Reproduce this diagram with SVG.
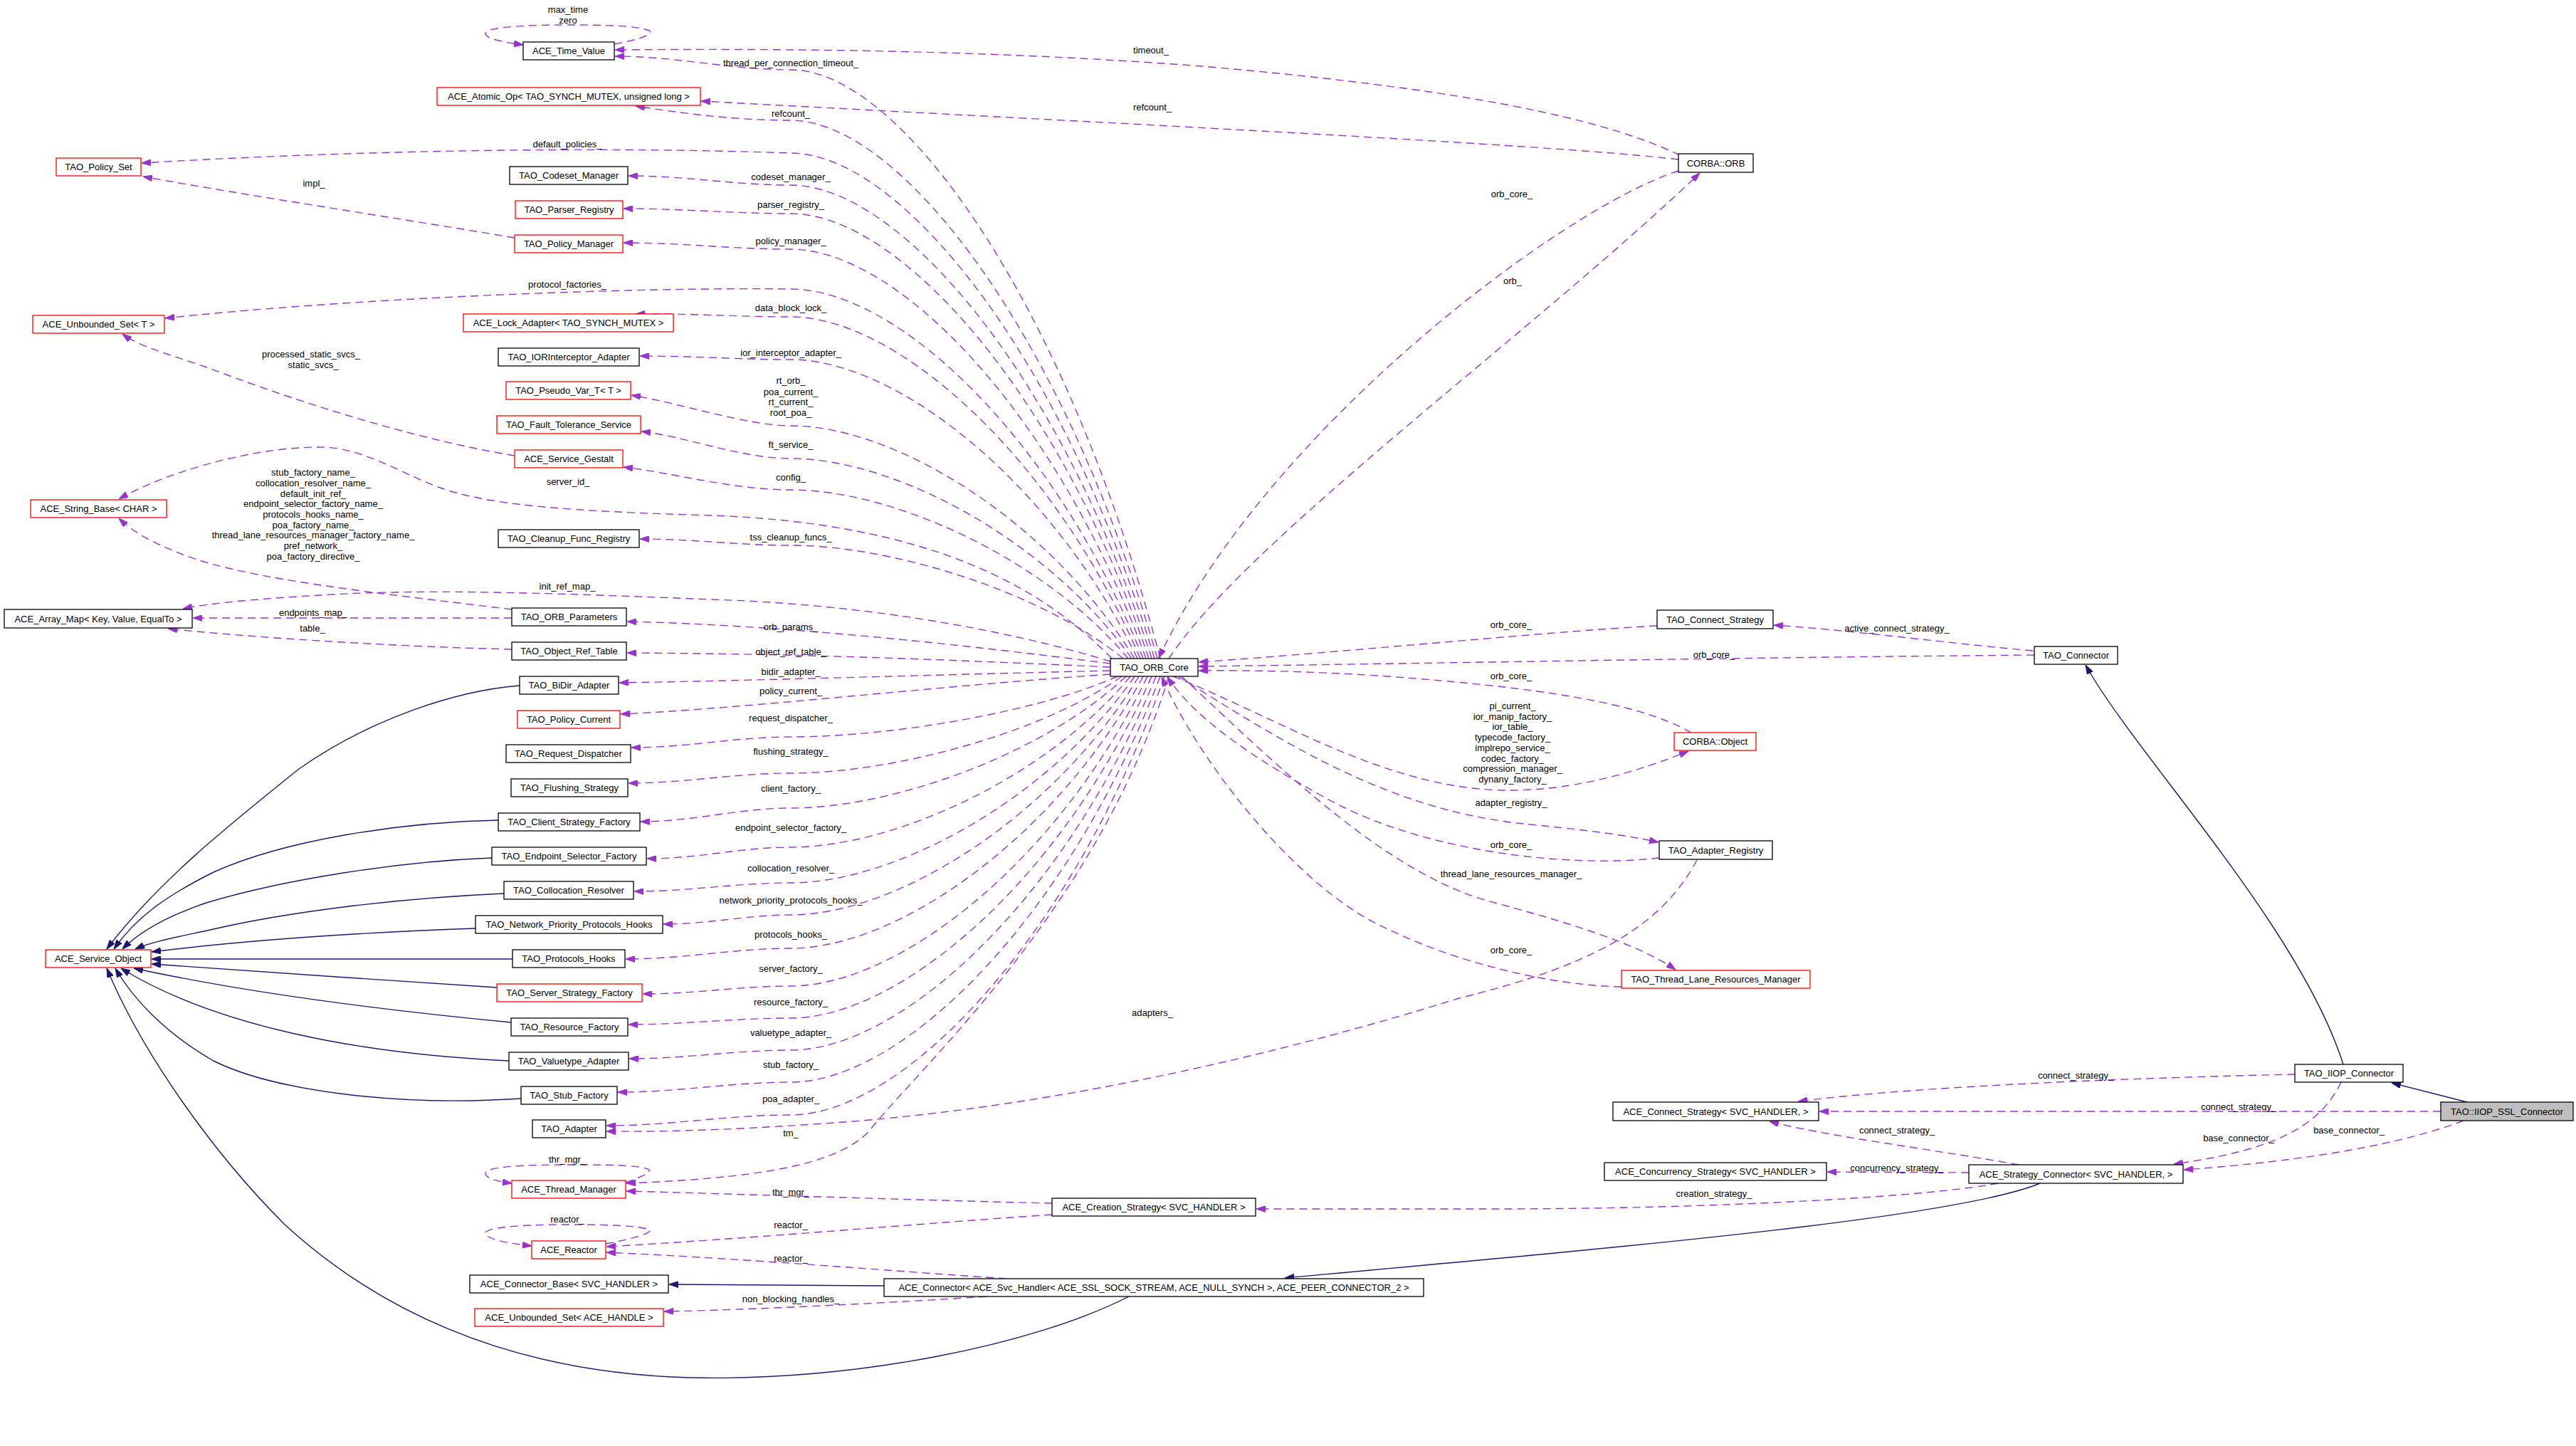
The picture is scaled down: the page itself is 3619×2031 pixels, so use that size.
<svg xmlns="http://www.w3.org/2000/svg" width="3619" height="2031" viewBox="0 0 3619 2031">
<style>
text{font-family:"Liberation Sans",Arial,sans-serif;font-size:13px;fill:#000;text-anchor:middle}
.n rect{fill:#fff;stroke:#000;stroke-width:1.3}
.n.r rect{stroke:#f00}
.n.g rect{fill:#bfbfbf}
.u{fill:none;stroke:#9a32cd;stroke-width:1.4;stroke-dasharray:11,7;marker-end:url(#ap)}
.i{fill:none;stroke:#191970;stroke-width:1.4;marker-end:url(#ab)}
</style>
<defs>
<marker id="ap" viewBox="0 0 13 9" refX="13" refY="4.5" markerWidth="13" markerHeight="9" markerUnits="userSpaceOnUse" orient="auto"><path d="M0,0 L13,4.5 L0,9 z" fill="#9a32cd" stroke="#9a32cd"/></marker>
<marker id="ab" viewBox="0 0 13 9" refX="13" refY="4.5" markerWidth="13" markerHeight="9" markerUnits="userSpaceOnUse" orient="auto"><path d="M0,0 L13,4.5 L0,9 z" fill="#191970" stroke="#191970"/></marker>
</defs>
<rect x="0" y="0" width="3619" height="2031" fill="#fff"/>
<g id="connectors">
<path class="u" d="M863,62 C900,55 920,48 912,43 C895,36 850,35 798,35 C720,35 682,40 682,47 C682,54 705,59 735,63"/>
<path class="u" d="M879,1661 C905,1652 918,1645 910,1642 C895,1636 850,1636 797,1636 C720,1636 682,1640 682,1648 C682,1654 695,1659 719,1662"/>
<path class="u" d="M851,1747 C900,1738 918,1730 912,1727 C895,1721 850,1720 798,1720 C720,1720 682,1725 682,1732 C682,1740 710,1746 747,1750"/>
<path class="u" d="M1630,925 C1500,429 1267,98 1111,98 C1025,98 951,79 864,79"/>
<path class="u" d="M1626,925 C1497,471 1265,169 1111,169 C1035,169 965,160 893,149"/>
<path class="u" d="M1622,925 C1494,499 1264,215 1111,215 C800,204 450,214 199,229"/>
<path class="u" d="M1618,925 C1491,526 1263,260 1111,260 C1032,260 965,247 883,247"/>
<path class="u" d="M1614,925 C1488,550 1262,300 1111,300 C1030,300 960,293 876,293"/>
<path class="u" d="M1610,925 C1485,580 1261,350 1111,350 C1030,350 960,341 876,341"/>
<path class="u" d="M1606,925 C1482,614 1260,406 1111,406 C900,403 500,418 232,447"/>
<path class="u" d="M1602,925 C1479,638 1258,445 1111,445 C1040,445 960,440 893,441"/>
<path class="u" d="M1598,925 C1476,673 1257,505 1111,505 C1038,505 975,500 899,500"/>
<path class="u" d="M1594,925 C1473,729 1256,598 1111,598 C1050,598 950,565 887,555"/>
<path class="u" d="M1590,925 C1470,756 1255,644 1111,644 C1040,644 960,612 901,606"/>
<path class="u" d="M1585,925 C1466,783 1253,688 1111,688 C1030,688 950,665 876,656"/>
<path class="u" d="M1578,925 C1461,830 1251,766 1111,766 C1038,766 975,757 899,757"/>
<path class="u" d="M1562,925 C1460,820 1300,735 1000,724 C800,718 680,710 610,682 C555,660 505,628 450,628 C350,628 230,665 167,701"/>
<path class="u" d="M1560,929 C1450,895 1250,850 1000,842 C800,834 600,826 450,836 C380,840 300,846 257,855"/>
<path class="u" d="M1560,932 C1350,905 1100,878 881,873"/>
<path class="u" d="M1560,937 C1300,925 1100,918 881,917"/>
<path class="u" d="M1560,942 C1300,948 1100,955 870,959"/>
<path class="u" d="M1560,947 C1300,965 1050,995 872,1003"/>
<path class="u" d="M1570,950 C1455,1001 1249,1035 1111,1035 C1034,1035 967,1050 887,1050"/>
<path class="u" d="M1576,950 C1460,1032 1250,1086 1111,1086 C1031,1086 963,1100 883,1100"/>
<path class="u" d="M1582,950 C1464,1061 1252,1135 1111,1135 C1038,1135 975,1154 900,1154"/>
<path class="u" d="M1588,950 C1469,1094 1254,1190 1111,1190 C1041,1190 982,1206 909,1206"/>
<path class="u" d="M1594,950 C1473,1124 1256,1240 1111,1240 C1035,1240 969,1252 891,1252"/>
<path class="u" d="M1600,950 C1478,1151 1258,1285 1111,1285 C1049,1285 996,1298 932,1298"/>
<path class="u" d="M1606,950 C1482,1179 1260,1332 1111,1332 C1031,1332 962,1347 879,1347"/>
<path class="u" d="M1612,950 C1487,1211 1261,1385 1111,1385 C1039,1385 978,1396 903,1396"/>
<path class="u" d="M1618,950 C1491,1238 1263,1430 1111,1430 C1031,1430 963,1439 883,1439"/>
<path class="u" d="M1624,950 C1496,1265 1265,1475 1111,1475 C1032,1475 965,1487 884,1487"/>
<path class="u" d="M1630,950 C1500,1292 1267,1520 1111,1520 C1027,1520 955,1534 868,1534"/>
<path class="u" d="M1636,950 C1505,1320 1268,1566 1111,1566 C1021,1566 945,1581 852,1581"/>
<path class="u" d="M1642,950 C1540,1280 1290,1500 1220,1590 C1170,1640 1050,1655 880,1662"/>
<path class="u" d="M2360,218 C2250,165 2050,125 1700,94 C1400,70 1100,68 864,70"/>
<path class="u" d="M2358,224 C2200,205 1700,180 985,142"/>
<path class="u" d="M2358,240 C2200,290 1780,600 1628,924"/>
<path class="u" d="M1642,925 C1750,760 2150,470 2388,243"/>
<path class="u" d="M2328,879 C2200,885 1900,915 1684,930"/>
<path class="u" d="M2858,920 C2400,924 2000,932 1684,936"/>
<path class="u" d="M2376,1029 C2300,985 2150,965 1950,950 C1850,943 1750,941 1684,942"/>
<path class="u" d="M1648,950 C1800,1010 1950,1110 2120,1110 C2220,1110 2310,1080 2372,1055"/>
<path class="u" d="M1655,950 C1800,1040 1950,1140 2150,1158 C2220,1165 2280,1172 2330,1183"/>
<path class="u" d="M2331,1205 C2200,1220 2000,1195 1870,1125 C1760,1065 1680,1010 1640,951"/>
<path class="u" d="M1660,950 C1800,1080 1950,1230 2100,1268 C2200,1295 2300,1325 2354,1362"/>
<path class="u" d="M2278,1386 C2200,1385 2050,1360 1920,1290 C1800,1220 1680,1060 1632,951"/>
<path class="u" d="M2384,1208 C2330,1310 2220,1360 2050,1402 C1800,1480 1500,1550 1200,1575 C1050,1586 950,1590 852,1589"/>
<path class="u" d="M2856,914 C2750,905 2600,885 2492,878"/>
<path class="u" d="M3224,1509 C3000,1514 2700,1525 2526,1547"/>
<path class="u" d="M3429,1561 L2556,1561"/>
<path class="u" d="M2836,1636 C2720,1615 2560,1595 2486,1575"/>
<path class="u" d="M2766,1647 L2567,1646"/>
<path class="u" d="M2807,1662 C2700,1682 2400,1698 2100,1698 L1765,1698"/>
<path class="u" d="M3289,1520 C3260,1580 3200,1615 3054,1635"/>
<path class="u" d="M3461,1574 C3380,1605 3250,1630 3068,1643"/>
<path class="u" d="M723,640 C600,620 450,575 320,527 C250,500 200,490 172,469"/>
<path class="u" d="M723,334 C550,305 350,275 201,248"/>
<path class="u" d="M719,856 C550,835 350,815 260,780 C220,765 190,750 167,728"/>
<path class="u" d="M719,868 L271,868"/>
<path class="u" d="M719,912 C550,908 350,895 236,883"/>
<path class="u" d="M1478,1690 C1300,1686 1000,1676 880,1673"/>
<path class="u" d="M1478,1706 C1300,1718 1050,1740 852,1751"/>
<path class="u" d="M1414,1796 C1250,1785 1050,1768 852,1759"/>
<path class="u" d="M1386,1821 C1250,1830 1050,1840 933,1842"/>
<path class="i" d="M3292,1495 C3230,1300 3000,1060 2930,934"/>
<path class="i" d="M3466,1548 L3360,1521"/>
<path class="i" d="M2866,1662 C2750,1710 2300,1750 1805,1795"/>
<path class="i" d="M1242,1806 L940,1804"/>
<path class="i" d="M1586,1821 C1450,1890 1200,1940 970,1935 C700,1928 520,1830 400,1720 C300,1620 200,1480 150,1360"/>
<path class="i" d="M730,963 C640,970 520,1010 420,1080 C320,1160 220,1240 150,1333"/>
<path class="i" d="M700,1152 C560,1155 400,1180 300,1225 C230,1260 190,1290 160,1333"/>
<path class="i" d="M691,1205 C560,1210 400,1235 290,1268 C240,1285 200,1305 172,1333"/>
<path class="i" d="M708,1255 C550,1262 400,1282 300,1305 C250,1316 215,1322 190,1333"/>
<path class="i" d="M668,1304 C500,1310 350,1320 213,1337"/>
<path class="i" d="M720,1347 L213,1347"/>
<path class="i" d="M698,1387 C550,1378 350,1363 213,1354"/>
<path class="i" d="M718,1436 C550,1420 350,1395 188,1360"/>
<path class="i" d="M715,1490 C500,1480 300,1440 170,1360"/>
<path class="i" d="M732,1543 C550,1555 380,1530 300,1490 C230,1450 185,1400 162,1360"/>
<g id="edge-labels">
<text x="798" y="18">max_time</text>
<text x="798" y="33">zero</text>
<text x="1617" y="75">timeout_</text>
<text x="1111" y="93">thread_per_connection_timeout_</text>
<text x="1619" y="155">refcount_</text>
<text x="1111" y="164">refcount_</text>
<text x="797" y="207">default_policies_</text>
<text x="1111" y="253">codeset_manager_</text>
<text x="441" y="262">impl_</text>
<text x="2124" y="277">orb_core_</text>
<text x="1111" y="292">parser_registry_</text>
<text x="1111" y="343">policy_manager_</text>
<text x="2125" y="399">orb_</text>
<text x="797" y="404">protocol_factories_</text>
<text x="1111" y="437">data_block_lock_</text>
<text x="1111" y="500">ior_interceptor_adapter_</text>
<text x="437" y="502">processed_static_svcs_</text>
<text x="440" y="517">static_svcs_</text>
<text x="1111" y="539">rt_orb_</text>
<text x="1111" y="555">poa_current_</text>
<text x="1111" y="569">rt_current_</text>
<text x="1111" y="584">root_poa_</text>
<text x="1111" y="629">ft_service_</text>
<text x="440" y="668">stub_factory_name_</text>
<text x="440" y="683">collocation_resolver_name_</text>
<text x="440" y="698">default_init_ref_</text>
<text x="440" y="712">endpoint_selector_factory_name_</text>
<text x="440" y="727">protocols_hooks_name_</text>
<text x="440" y="742">poa_factory_name_</text>
<text x="440" y="756">thread_lane_resources_manager_factory_name_</text>
<text x="440" y="771">pref_network_</text>
<text x="440" y="786">poa_factory_directive_</text>
<text x="1111" y="675">config_</text>
<text x="798" y="681">server_id_</text>
<text x="1111" y="759">tss_cleanup_funcs_</text>
<text x="797" y="828">init_ref_map_</text>
<text x="440" y="865">endpoints_map_</text>
<text x="2123" y="882">orb_core_</text>
<text x="1111" y="885">orb_params_</text>
<text x="2665" y="887">active_connect_strategy_</text>
<text x="439" y="887">table_</text>
<text x="1111" y="920">object_ref_table_</text>
<text x="2408" y="924">orb_core_</text>
<text x="1111" y="948">bidir_adapter_</text>
<text x="2123" y="954">orb_core_</text>
<text x="1111" y="975">policy_current_</text>
<text x="2125" y="996">pi_current_</text>
<text x="2125" y="1011">ior_manip_factory_</text>
<text x="2125" y="1025">ior_table_</text>
<text x="2125" y="1040">typecode_factory_</text>
<text x="2125" y="1055">implrepo_service_</text>
<text x="2125" y="1070">codec_factory_</text>
<text x="2125" y="1084">compression_manager_</text>
<text x="2125" y="1099">dynany_factory_</text>
<text x="1111" y="1013">request_dispatcher_</text>
<text x="1111" y="1060">flushing_strategy_</text>
<text x="1111" y="1112">client_factory_</text>
<text x="2123" y="1132">adapter_registry_</text>
<text x="1111" y="1167">endpoint_selector_factory_</text>
<text x="2123" y="1191">orb_core_</text>
<text x="1111" y="1224">collocation_resolver_</text>
<text x="2123" y="1232">thread_lane_resources_manager_</text>
<text x="1111" y="1269">network_priority_protocols_hooks_</text>
<text x="1111" y="1317">protocols_hooks_</text>
<text x="2123" y="1339">orb_core_</text>
<text x="1111" y="1365">server_factory_</text>
<text x="1111" y="1412">resource_factory_</text>
<text x="1619" y="1427">adapters_</text>
<text x="1111" y="1455">valuetype_adapter_</text>
<text x="1111" y="1500">stub_factory_</text>
<text x="2916" y="1515">connect_strategy_</text>
<text x="1111" y="1548">poa_adapter_</text>
<text x="3145" y="1559">connect_strategy_</text>
<text x="2665" y="1592">connect_strategy_</text>
<text x="3300" y="1592">base_connector_</text>
<text x="1111" y="1596">tm_</text>
<text x="3145" y="1603">base_connector_</text>
<text x="797" y="1633">thr_mgr_</text>
<text x="2665" y="1645">concurrency_strategy_</text>
<text x="1111" y="1679">thr_mgr_</text>
<text x="2408" y="1681">creation_strategy_</text>
<text x="797" y="1717">reactor_</text>
<text x="1111" y="1725">reactor_</text>
<text x="1111" y="1772">reactor_</text>
<text x="1111" y="1829">non_blocking_handles_</text>
</g>
</g>
<g id="n1" class="n"><rect x="735" y="59" width="128" height="25"/><text x="799" y="76">ACE_Time_Value</text></g>
<g id="n2" class="n r"><rect x="614" y="123" width="370" height="25"/><text x="799" y="140">ACE_Atomic_Op&lt; TAO_SYNCH_MUTEX, unsigned long &gt;</text></g>
<g id="n3" class="n r"><rect x="79" y="222" width="119" height="25"/><text x="138.5" y="239">TAO_Policy_Set</text></g>
<g id="n4" class="n"><rect x="716" y="234" width="166" height="25"/><text x="799" y="251">TAO_Codeset_Manager</text></g>
<g id="n5" class="n r"><rect x="724" y="282" width="151" height="25"/><text x="799.5" y="299">TAO_Parser_Registry</text></g>
<g id="n6" class="n r"><rect x="723" y="330" width="152" height="25"/><text x="799" y="347">TAO_Policy_Manager</text></g>
<g id="n7" class="n r"><rect x="46" y="443" width="185" height="25"/><text x="138.5" y="460">ACE_Unbounded_Set&lt; T &gt;</text></g>
<g id="n8" class="n r"><rect x="651" y="441" width="295" height="25"/><text x="798.5" y="458">ACE_Lock_Adapter&lt; TAO_SYNCH_MUTEX &gt;</text></g>
<g id="n9" class="n"><rect x="700" y="489" width="198" height="25"/><text x="799" y="506">TAO_IORInterceptor_Adapter</text></g>
<g id="n10" class="n r"><rect x="711" y="536" width="175" height="25"/><text x="798.5" y="553">TAO_Pseudo_Var_T&lt; T &gt;</text></g>
<g id="n11" class="n r"><rect x="698" y="584" width="202" height="25"/><text x="799" y="601">TAO_Fault_Tolerance_Service</text></g>
<g id="n12" class="n r"><rect x="723" y="632" width="152" height="25"/><text x="799" y="649">ACE_Service_Gestalt</text></g>
<g id="n13" class="n r"><rect x="43" y="702" width="191" height="25"/><text x="138.5" y="719">ACE_String_Base&lt; CHAR &gt;</text></g>
<g id="n14" class="n"><rect x="700" y="744" width="198" height="25"/><text x="799" y="761">TAO_Cleanup_Func_Registry</text></g>
<g id="n15" class="n"><rect x="6" y="856" width="264" height="26"/><text x="138" y="873.5">ACE_Array_Map&lt; Key, Value, EqualTo &gt;</text></g>
<g id="n16" class="n"><rect x="719" y="854" width="161" height="25"/><text x="799.5" y="871">TAO_ORB_Parameters</text></g>
<g id="n17" class="n"><rect x="719" y="902" width="161" height="25"/><text x="799.5" y="919">TAO_Object_Ref_Table</text></g>
<g id="n18" class="n"><rect x="730" y="950" width="139" height="25"/><text x="799.5" y="967">TAO_BiDir_Adapter</text></g>
<g id="n19" class="n r"><rect x="727" y="998" width="144" height="25"/><text x="799" y="1015">TAO_Policy_Current</text></g>
<g id="n20" class="n"><rect x="711" y="1046" width="175" height="25"/><text x="798.5" y="1063">TAO_Request_Dispatcher</text></g>
<g id="n21" class="n"><rect x="718" y="1094" width="164" height="25"/><text x="800" y="1111">TAO_Flushing_Strategy</text></g>
<g id="n22" class="n"><rect x="700" y="1142" width="199" height="25"/><text x="799.5" y="1159">TAO_Client_Strategy_Factory</text></g>
<g id="n23" class="n"><rect x="691" y="1190" width="217" height="25"/><text x="799.5" y="1207">TAO_Endpoint_Selector_Factory</text></g>
<g id="n24" class="n"><rect x="708" y="1238" width="182" height="25"/><text x="799" y="1255">TAO_Collocation_Resolver</text></g>
<g id="n25" class="n"><rect x="668" y="1286" width="263" height="25"/><text x="799.5" y="1303">TAO_Network_Priority_Protocols_Hooks</text></g>
<g id="n26" class="n r"><rect x="64" y="1334" width="148" height="25"/><text x="138" y="1351">ACE_Service_Object</text></g>
<g id="n27" class="n"><rect x="720" y="1334" width="158" height="25"/><text x="799" y="1351">TAO_Protocols_Hooks</text></g>
<g id="n28" class="n r"><rect x="698" y="1382" width="204" height="25"/><text x="800" y="1399">TAO_Server_Strategy_Factory</text></g>
<g id="n29" class="n"><rect x="718" y="1430" width="164" height="25"/><text x="800" y="1447">TAO_Resource_Factory</text></g>
<g id="n30" class="n"><rect x="715" y="1478" width="168" height="25"/><text x="799" y="1495">TAO_Valuetype_Adapter</text></g>
<g id="n31" class="n"><rect x="732" y="1526" width="135" height="25"/><text x="799.5" y="1543">TAO_Stub_Factory</text></g>
<g id="n32" class="n"><rect x="748" y="1573" width="103" height="25"/><text x="799.5" y="1590">TAO_Adapter</text></g>
<g id="n33" class="n r"><rect x="719" y="1658" width="160" height="25"/><text x="799" y="1675">ACE_Thread_Manager</text></g>
<g id="n34" class="n r"><rect x="747" y="1743" width="104" height="25"/><text x="799" y="1760">ACE_Reactor</text></g>
<g id="n35" class="n"><rect x="660" y="1791" width="279" height="25"/><text x="799.5" y="1808">ACE_Connector_Base&lt; SVC_HANDLER &gt;</text></g>
<g id="n36" class="n r"><rect x="667" y="1838" width="265" height="25"/><text x="799.5" y="1855">ACE_Unbounded_Set&lt; ACE_HANDLE &gt;</text></g>
<g id="n37" class="n"><rect x="1560" y="925" width="123" height="25"/><text x="1621.5" y="942">TAO_ORB_Core</text></g>
<g id="n38" class="n"><rect x="1478" y="1683" width="286" height="25"/><text x="1621" y="1700">ACE_Creation_Strategy&lt; SVC_HANDLER &gt;</text></g>
<g id="n39" class="n"><rect x="1242" y="1796" width="758" height="25"/><text x="1621" y="1813">ACE_Connector&lt; ACE_Svc_Handler&lt; ACE_SSL_SOCK_STREAM, ACE_NULL_SYNCH &gt;, ACE_PEER_CONNECTOR_2 &gt;</text></g>
<g id="n40" class="n"><rect x="2358" y="216" width="105" height="26"/><text x="2410.5" y="233.5">CORBA::ORB</text></g>
<g id="n41" class="n"><rect x="2328" y="857" width="163" height="26"/><text x="2409.5" y="874.5">TAO_Connect_Strategy</text></g>
<g id="n42" class="n"><rect x="2858" y="908" width="117" height="25"/><text x="2916.5" y="925">TAO_Connector</text></g>
<g id="n43" class="n r"><rect x="2352" y="1029" width="115" height="25"/><text x="2409.5" y="1046">CORBA::Object</text></g>
<g id="n44" class="n"><rect x="2331" y="1181" width="159" height="26"/><text x="2410.5" y="1198.5">TAO_Adapter_Registry</text></g>
<g id="n45" class="n r"><rect x="2278" y="1363" width="265" height="25"/><text x="2410.5" y="1380">TAO_Thread_Lane_Resources_Manager</text></g>
<g id="n46" class="n"><rect x="3224" y="1495" width="152" height="25"/><text x="3300" y="1512">TAO_IIOP_Connector</text></g>
<g id="n47" class="n"><rect x="2266" y="1548" width="289" height="26"/><text x="2410.5" y="1565.5">ACE_Connect_Strategy&lt; SVC_HANDLER, &gt;</text></g>
<g id="n48" class="n g"><rect x="3429" y="1548" width="186" height="26"/><text x="3522" y="1565.5">TAO::IIOP_SSL_Connector</text></g>
<g id="n49" class="n"><rect x="2254" y="1633" width="312" height="25"/><text x="2410" y="1650">ACE_Concurrency_Strategy&lt; SVC_HANDLER &gt;</text></g>
<g id="n50" class="n"><rect x="2766" y="1636" width="301" height="26"/><text x="2916.5" y="1653.5">ACE_Strategy_Connector&lt; SVC_HANDLER, &gt;</text></g>
</svg>
